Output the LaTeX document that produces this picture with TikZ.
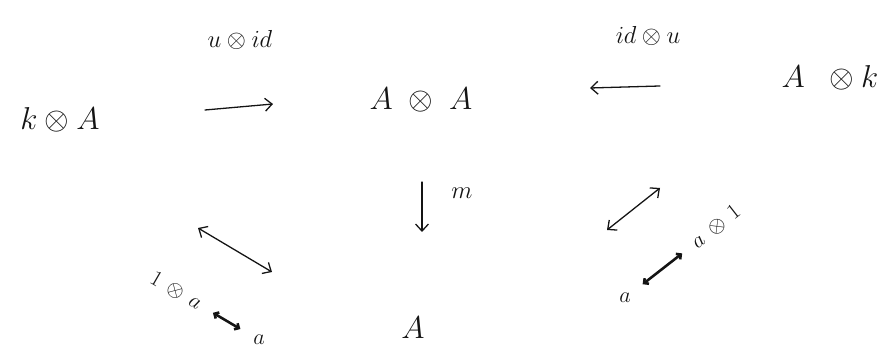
\documentclass[tikz,border=0pt]{standalone}
\usepackage{fix-cm}
\usepackage{amssymb}
\usepackage{tikz}
\usepackage{xcolor}
\usetikzlibrary{arrows.meta}
\definecolor{inkc}{HTML}{141414}
\tikzset{
  obj/.style={text=inkc, font=\fontsize{27}{31}\selectfont},
  lbl/.style={text=inkc, font=\fontsize{21}{25}\selectfont},
  tag/.style={text=inkc, font=\fontsize{19}{22}\selectfont, inner sep=1pt},
  map/.style={draw=inkc, line width=1.1pt, line cap=round, -{Straight Barb[length=6pt,width=11pt]}},
  iso/.style={draw=inkc, line width=1.1pt, line cap=round, {Straight Barb[length=6pt,width=11pt]}-{Straight Barb[length=6pt,width=11pt]}},
  tagiso/.style={draw=inkc, line width=2.2pt, line cap=round, {Straight Barb[length=3pt,width=6pt]}-{Straight Barb[length=3pt,width=6pt]}, shorten <=0.4cm, shorten >=0.4cm},
}

\begin{document}
\begin{tikzpicture}
\useasboundingbox (0,0) rectangle (26.730,10.830);
\node[obj] (kA) at (1.800,7.230) {$k\otimes A$};
\node[obj] (AA) at (12.630,7.830) {$A\;\otimes\;A$};
\node[obj] (Ak) at (24.900,8.490) {$A\;\;\otimes k$};
\node[obj] (A) at (12.390,0.990) {$A$};
\node[lbl] (uid) at (7.200,9.630) {$u\otimes id$};
\node[lbl] (idu) at (19.440,9.750) {$id\otimes u$};
\node[lbl] (m) at (13.860,5.040) {$m$};
\coordinate (f1s) at (6.150,7.530);
\coordinate (f1t) at (8.190,7.710);
\coordinate (f2s) at (19.800,8.250);
\coordinate (f2t) at (17.700,8.190);
\coordinate (ms) at (12.660,5.370);
\coordinate (mt) at (12.660,3.870);
\coordinate (lis) at (5.940,3.990);
\coordinate (lit) at (8.160,2.670);
\coordinate (ris) at (18.210,3.930);
\coordinate (rit) at (19.800,5.190);
\draw[map] (f1s) -- (f1t);
\draw[map] (f2s) -- (f2t);
\draw[map] (ms) -- (mt);
\draw[iso] (lis) -- (lit);
\draw[iso] (ris) -- (rit);
\node[tag, rotate=-30] (la1) at (5.280,2.100) {$1\,\otimes\,a$};
\node[tag] (la2) at (7.770,0.630) {$a$};
\draw[tagiso] (la1) -- (la2);
\node[tag] (ra1) at (18.750,1.890) {$a$};
\node[tag, rotate=38] (ra2) at (21.480,4.020) {$a\,\otimes\,1$};
\draw[tagiso] (ra1) -- (ra2);
\end{tikzpicture}
\end{document}
